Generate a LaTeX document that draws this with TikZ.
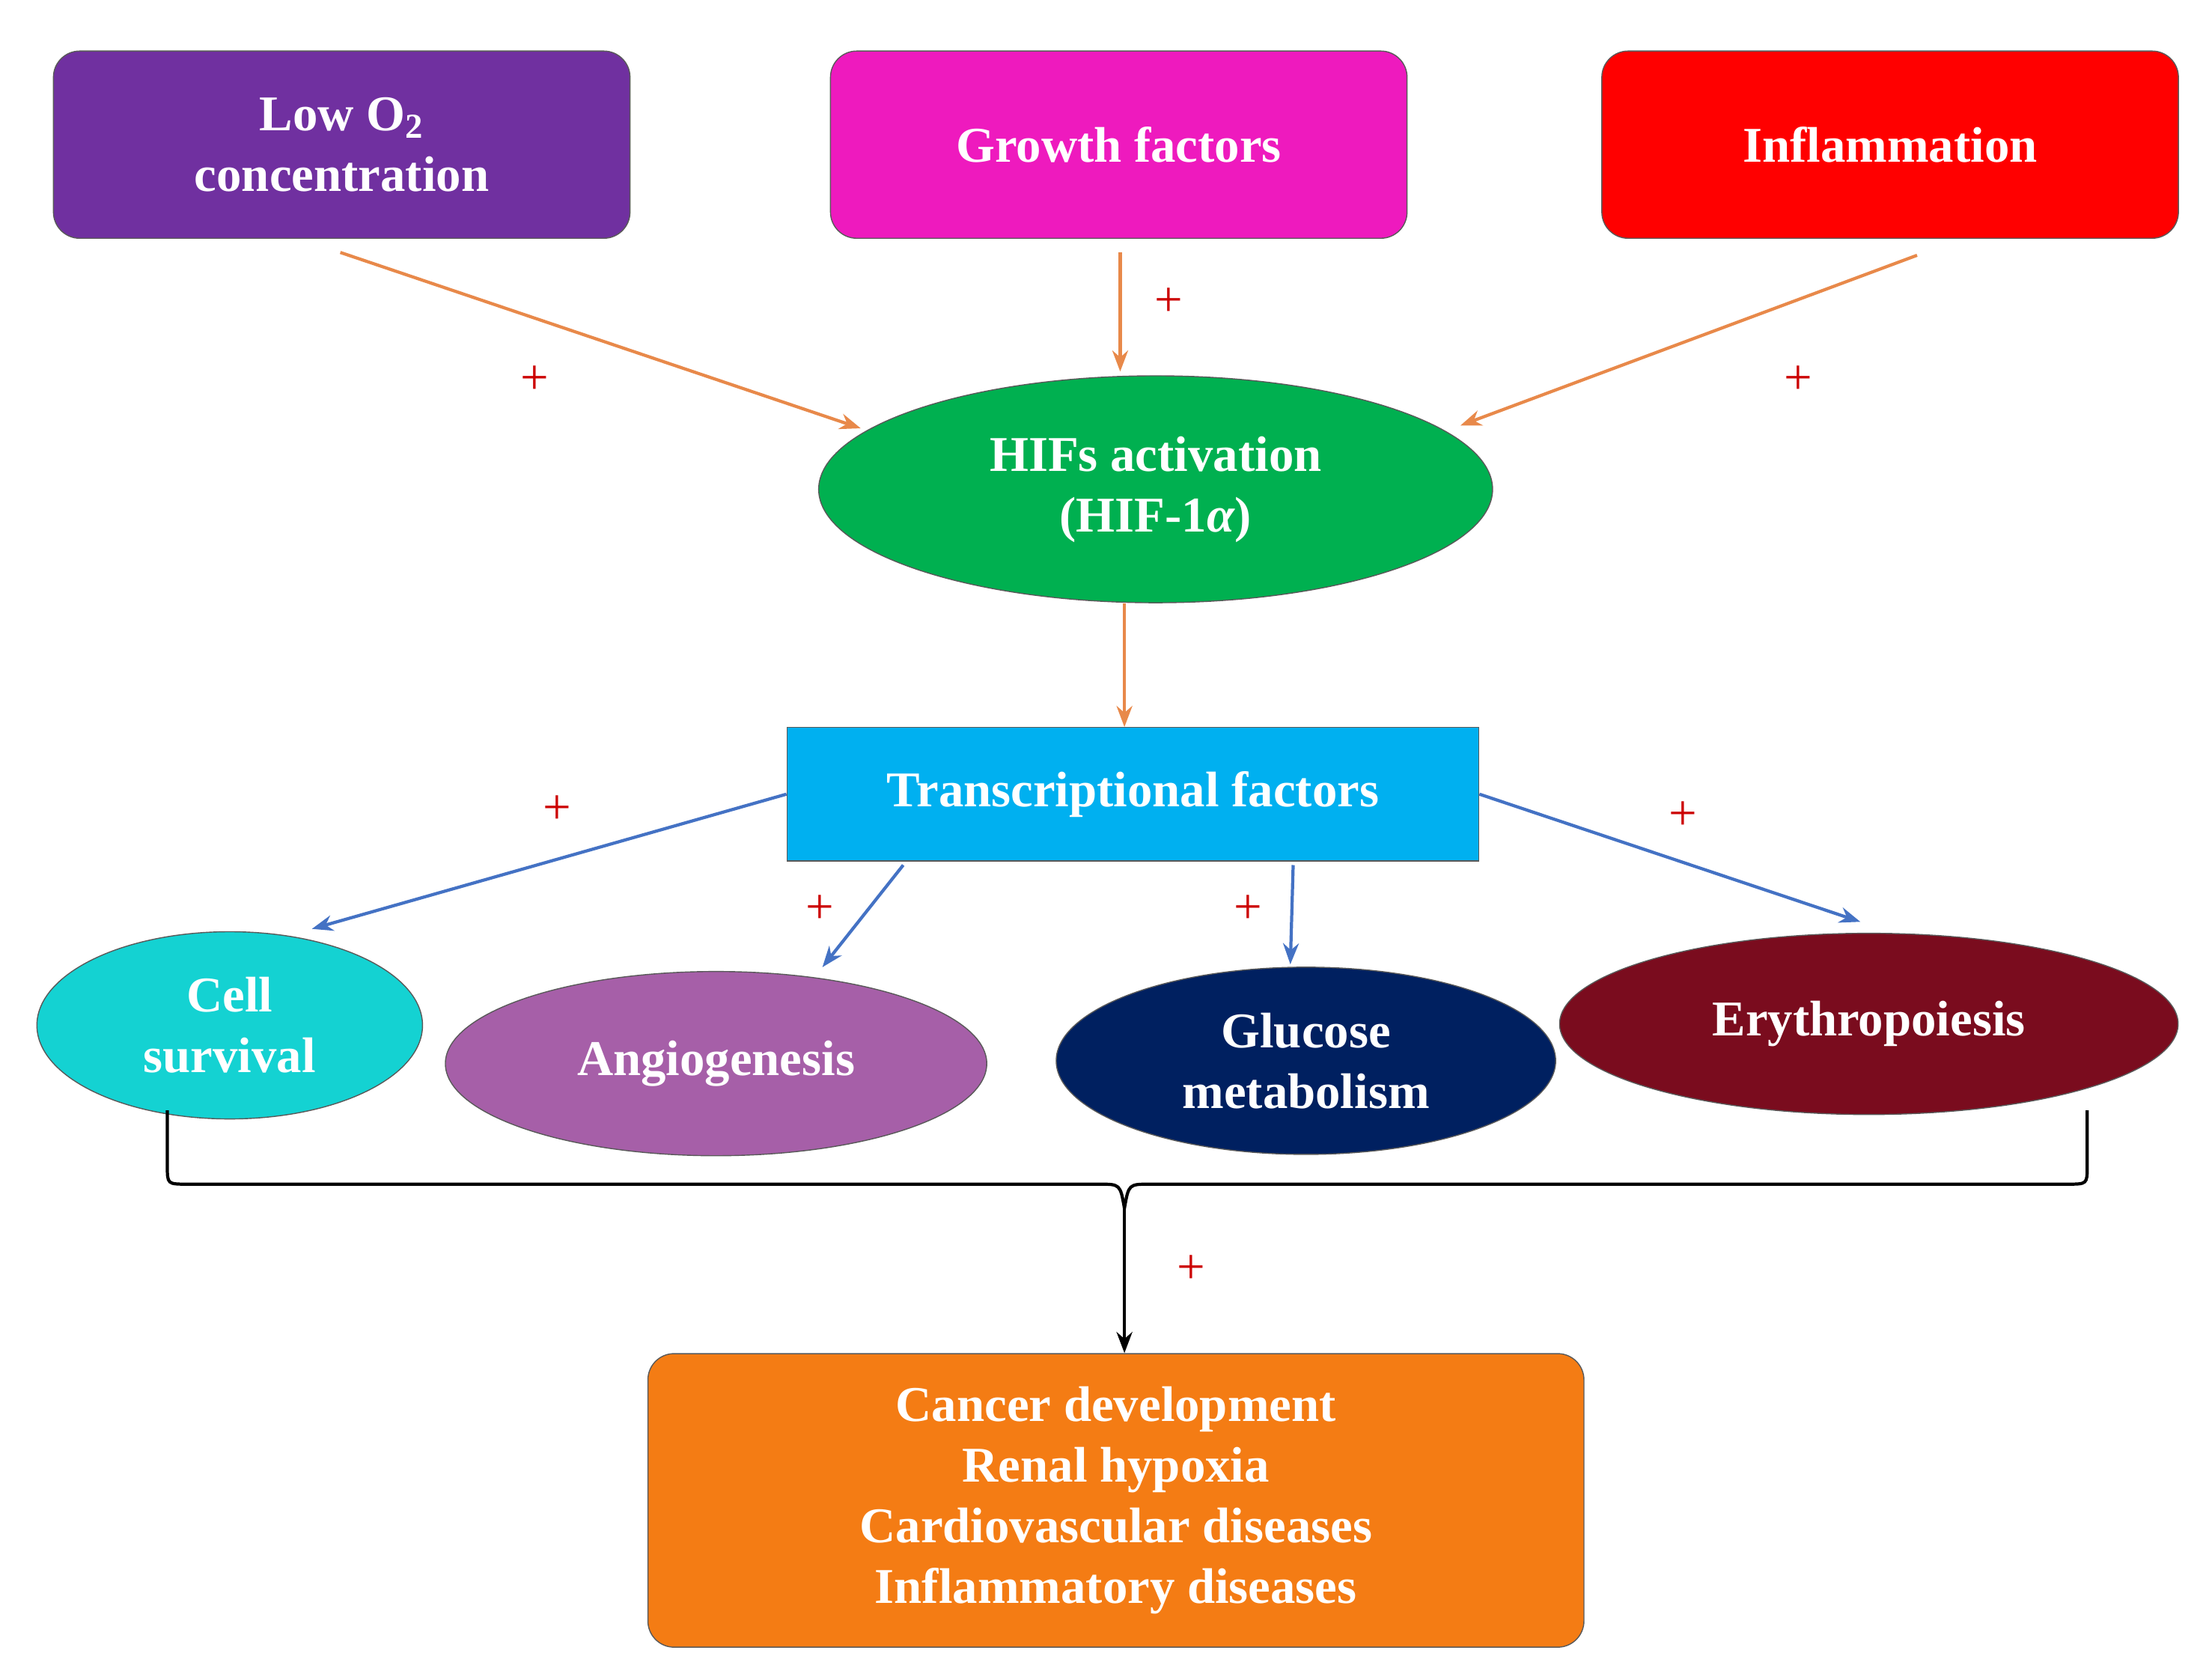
\documentclass[tikz,border=0pt]{standalone}
\usepackage{fontspec}
\setmainfont{Liberation Serif}
\usetikzlibrary{shapes.geometric,arrows.meta}
\definecolor{lowox}{HTML}{7030A0}
\definecolor{growth}{HTML}{EE1ABE}
\definecolor{inflam}{HTML}{FF0000}
\definecolor{hif}{HTML}{00B050}
\definecolor{trans}{HTML}{00B0F0}
\definecolor{surv}{HTML}{14D2D2}
\definecolor{angio}{HTML}{A65FA8}
\definecolor{gluc}{HTML}{002060}
\definecolor{eryth}{HTML}{7A0C1E}
\definecolor{disease}{HTML}{F47C14}
\definecolor{oarrow}{HTML}{E8894A}
\definecolor{barrow}{HTML}{4472C4}
\begin{document}
\begin{tikzpicture}[x=0.01894cm, y=-0.01894cm,
  every node/.style={font=\bfseries\fontsize{19}{23}\selectfont, text=white, align=center},
  box/.style={draw=gray!70!black, rounded corners=0.35cm, minimum width=#1},
  oval/.style={ellipse, draw=gray!70!black, inner sep=0pt},
  oarr/.style={draw=oarrow, line width=1.2pt, -{Stealth[length=8pt]}},
  barr/.style={draw=barrow, line width=1.2pt, -{Stealth[length=8pt]}},
  plus/.style={text=red!80!black, font=\fontsize{19}{23}\selectfont}]
  \useasboundingbox (0,0) rectangle (1560,1180);
  % top row
  \node[box, fill=lowox, minimum width=7.7cm, minimum height=2.5cm] (low) at (241,102) {Low O\textsubscript{2}\\concentration};
  \node[box, fill=growth, minimum width=7.7cm, minimum height=2.5cm] (grow) at (789,102) {Growth factors};
  \node[box, fill=inflam, minimum width=7.7cm, minimum height=2.5cm] (infl) at (1333,102) {Inflammation};
  % HIF
  \node[oval, fill=hif, minimum width=9.0cm, minimum height=3.03cm] (hifs) at (815,345) {HIFs activation\\(HIF-1\textit{α})};
  \node[fill=trans, draw=gray!70!black, minimum width=9.24cm, minimum height=1.78cm] (tf) at (799,560) {Transcriptional factors};
  % outcomes
  \node[oval, fill=surv, minimum width=5.15cm, minimum height=2.5cm] (cell) at (162,723) {Cell\\survival};
  \node[oval, fill=angio, minimum width=7.23cm, minimum height=2.46cm] (ang) at (505,750) {Angiogenesis};
  \node[oval, fill=gluc, minimum width=6.67cm, minimum height=2.5cm] (glu) at (921,748) {Glucose\\metabolism};
  \node[oval, fill=eryth, minimum width=8.26cm, minimum height=2.42cm] (ery) at (1318,722) {Erythropoiesis};
  \node[box, fill=disease, minimum width=12.5cm, minimum height=3.92cm] (dis) at (787,1058) {Cancer development\\Renal hypoxia\\Cardiovascular diseases\\Inflammatory diseases};
  % arrows
  \draw[oarr] (240,178) -- (607,302);
  \draw[oarr] (790,178) -- (790,262);
  \draw[oarr] (1352,180) -- (1030,300);
  \draw[oarr] (hifs.south -| 793,0) -- (tf.north -| 793,0);
  \draw[barr] (tf.west) -- (220,655);
  \draw[barr] (637,610) -- (580,682);
  \draw[barr] (912,610) -- (910,680);
  \draw[barr] (tf.east) -- (1312,650);
  % brace
  \coordinate (bl) at (118,783);
  \coordinate (br) at (1472,783);
  \draw[line width=1.2pt] (bl) -- (118,822) .. controls (118,835) .. (132,835) -- (775,835)
    .. controls (790,835) .. (793,852) .. controls (796,835) .. (811,835) -- (1458,835)
    .. controls (1472,835) .. (1472,822) -- (br);
  \draw[line width=1.2pt, -{Stealth[length=8pt]}] (793,852) -- (dis.north -| 793,0);
  % signs
  \foreach \px/\py in {377/268,824/213,1268/268,393/571,578/641,880/641,1187/575,840/895}
    \node[plus] at (\px,\py) {+};
\end{tikzpicture}
\end{document}
